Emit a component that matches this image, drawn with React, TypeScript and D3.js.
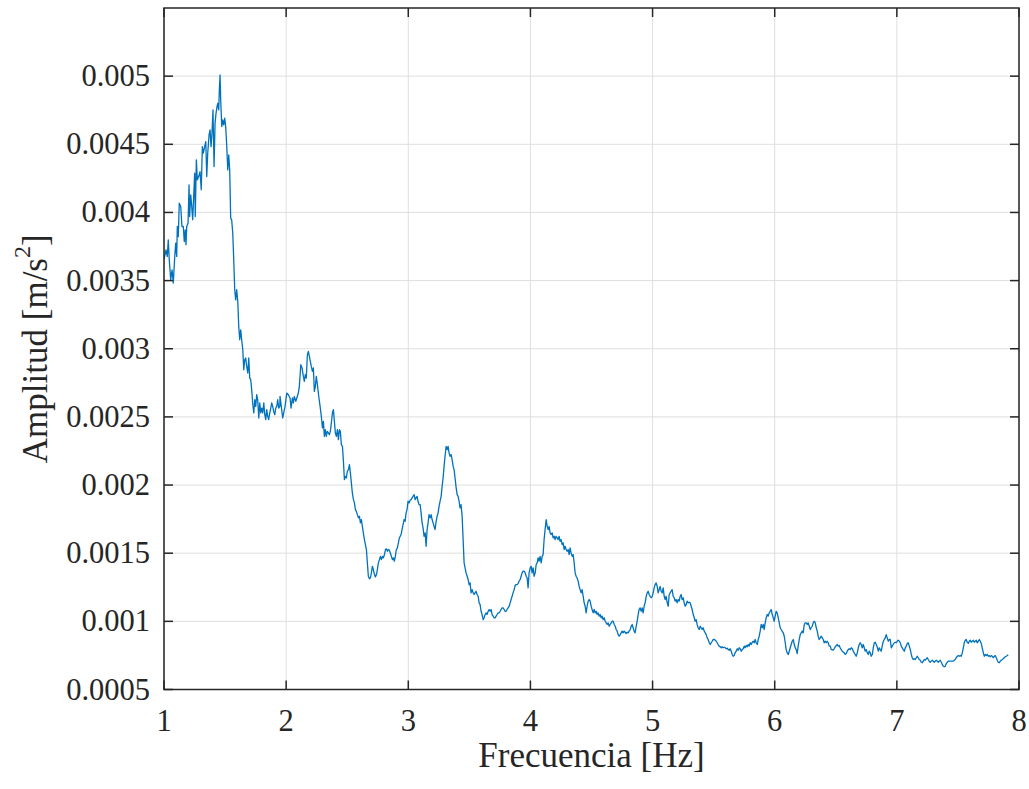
import React from "react";
import * as d3 from "d3";

// Acceleration amplitude spectrum: [frequency (Hz), amplitude (m/s²)]
const spectrum: [number, number][] = [
[1.000,0.003653],[1.016,0.003726],[1.027,0.003677],[1.035,0.003799],[1.043,0.003653],[1.055,0.003506],[1.066,0.003579],[1.076,0.003482],[1.088,0.003677],[1.096,0.003775],[1.104,0.003677],[1.109,0.003897],[1.117,0.003823],[1.125,0.004068],[1.137,0.004043],[1.147,0.003897],[1.158,0.003897],[1.166,0.003787],[1.174,0.003872],[1.180,0.003763],[1.186,0.003897],[1.197,0.003922],[1.205,0.004202],[1.210,0.003970],[1.219,0.004129],[1.227,0.004043],[1.235,0.003946],[1.243,0.004117],[1.251,0.004288],[1.256,0.003970],[1.265,0.004386],[1.273,0.004239],[1.284,0.004263],[1.295,0.004300],[1.305,0.004166],[1.314,0.004483],[1.322,0.004435],[1.333,0.004483],[1.342,0.004520],[1.350,0.004263],[1.358,0.004435],[1.369,0.004569],[1.377,0.004606],[1.385,0.004483],[1.393,0.004581],[1.401,0.004752],[1.410,0.004337],[1.418,0.004655],[1.426,0.004728],[1.434,0.004776],[1.440,0.004801],[1.448,0.004752],[1.453,0.004899],[1.459,0.005009],[1.464,0.004826],[1.473,0.004630],[1.481,0.004679],[1.489,0.004642],[1.497,0.004691],[1.505,0.004630],[1.514,0.004483],[1.522,0.004312],[1.530,0.004422],[1.538,0.004312],[1.546,0.003958],[1.554,0.003946],[1.563,0.003848],[1.571,0.003653],[1.579,0.003433],[1.587,0.003359],[1.595,0.003433],[1.604,0.003347],[1.612,0.003164],[1.620,0.003066],[1.628,0.003139],[1.636,0.003066],[1.645,0.002993],[1.653,0.002846],[1.661,0.002919],[1.669,0.002932],[1.677,0.002870],[1.686,0.002822],[1.694,0.002932],[1.702,0.002785],[1.710,0.002773],[1.718,0.002700],[1.726,0.002602],[1.735,0.002529],[1.743,0.002626],[1.751,0.002577],[1.759,0.002663],[1.767,0.002626],[1.776,0.002492],[1.784,0.002602],[1.792,0.002529],[1.800,0.002565],[1.808,0.002529],[1.817,0.002602],[1.825,0.002516],[1.833,0.002480],[1.841,0.002553],[1.849,0.002504],[1.857,0.002480],[1.866,0.002529],[1.874,0.002565],[1.882,0.002602],[1.890,0.002577],[1.898,0.002540],[1.907,0.002516],[1.915,0.002565],[1.923,0.002577],[1.931,0.002626],[1.939,0.002565],[1.948,0.002577],
[1.950,0.002650],[1.972,0.002492],[1.991,0.002577],[2.005,0.002675],[2.018,0.002663],[2.032,0.002639],[2.040,0.002565],[2.051,0.002639],[2.059,0.002602],[2.067,0.002650],[2.079,0.002614],[2.087,0.002639],[2.100,0.002675],[2.108,0.002724],[2.120,0.002883],[2.130,0.002859],[2.141,0.002797],[2.149,0.002760],[2.157,0.002810],[2.165,0.002785],[2.174,0.002956],[2.182,0.002980],[2.190,0.002944],[2.198,0.002907],[2.206,0.002870],[2.215,0.002834],[2.223,0.002859],[2.231,0.002687],[2.239,0.002724],[2.247,0.002797],[2.256,0.002736],[2.267,0.002650],[2.278,0.002577],[2.288,0.002504],[2.297,0.002419],[2.305,0.002467],[2.313,0.002357],[2.321,0.002406],[2.329,0.002357],[2.337,0.002394],[2.346,0.002382],[2.354,0.002370],[2.362,0.002394],[2.370,0.002455],[2.379,0.002529],[2.387,0.002553],[2.395,0.002467],[2.403,0.002382],[2.411,0.002357],[2.420,0.002406],[2.428,0.002333],[2.436,0.002406],[2.444,0.002394],[2.452,0.002296],[2.461,0.002284],[2.469,0.002174],[2.477,0.002040],[2.485,0.002064],[2.493,0.002052],[2.501,0.002101],[2.510,0.002113],[2.518,0.002150],[2.526,0.002089],[2.534,0.002016],[2.542,0.001942],[2.551,0.001893],[2.559,0.001869],[2.567,0.001820],[2.575,0.001807],[2.583,0.001783],[2.592,0.001759],[2.600,0.001771],[2.608,0.001722],[2.616,0.001747],[2.624,0.001697],[2.632,0.001649],[2.641,0.001600],[2.649,0.001563],[2.657,0.001527],[2.665,0.001429],[2.673,0.001331],[2.682,0.001312],[2.690,0.001319],[2.698,0.001356],[2.706,0.001404],[2.714,0.001380],[2.723,0.001343],[2.731,0.001326],[2.739,0.001343],[2.747,0.001380],[2.755,0.001429],[2.764,0.001453],[2.772,0.001477],[2.780,0.001453],[2.788,0.001477],[2.796,0.001466],[2.805,0.001490],[2.813,0.001527],[2.821,0.001532],[2.829,0.001514],[2.837,0.001527],[2.845,0.001521],[2.853,0.001502],[2.862,0.001477],[2.870,0.001453],[2.878,0.001466],[2.886,0.001441],[2.894,0.001477],[2.902,0.001527],[2.911,0.001539],[2.919,0.001576],[2.927,0.001612],
[2.941,0.001637],[2.949,0.001673],[2.957,0.001710],[2.966,0.001747],[2.974,0.001734],[2.982,0.001796],[2.990,0.001820],[2.998,0.001881],[3.007,0.001869],[3.015,0.001888],[3.023,0.001893],[3.031,0.001906],[3.039,0.001917],[3.048,0.001930],[3.056,0.001893],[3.064,0.001906],[3.072,0.001917],[3.080,0.001881],[3.088,0.001856],[3.097,0.001856],[3.105,0.001796],[3.113,0.001722],[3.121,0.001686],[3.129,0.001624],[3.138,0.001649],[3.146,0.001551],[3.154,0.001673],[3.162,0.001722],[3.170,0.001783],[3.179,0.001759],[3.187,0.001783],[3.195,0.001747],[3.203,0.001722],[3.211,0.001697],[3.219,0.001673],[3.228,0.001734],[3.236,0.001771],[3.244,0.001796],[3.252,0.001844],[3.260,0.001881],[3.269,0.001917],[3.277,0.001991],[3.285,0.002052],[3.293,0.002137],[3.301,0.002211],[3.310,0.002284],[3.318,0.002260],[3.326,0.002284],[3.334,0.002236],[3.342,0.002211],[3.351,0.002223],[3.359,0.002186],[3.367,0.002137],[3.375,0.002113],[3.383,0.002052],[3.392,0.001979],[3.400,0.001930],[3.408,0.001917],[3.416,0.001881],[3.424,0.001832],[3.432,0.001856],[3.441,0.001771],[3.449,0.001600],[3.457,0.001429],[3.465,0.001392],[3.473,0.001356],[3.482,0.001331],[3.490,0.001307],[3.498,0.001270],[3.506,0.001282],[3.514,0.001209],[3.523,0.001233],[3.531,0.001209],[3.539,0.001197],[3.547,0.001209],[3.555,0.001221],[3.563,0.001197],[3.572,0.001184],[3.580,0.001136],[3.588,0.001123],[3.596,0.001074],[3.604,0.001050],[3.613,0.001013],[3.621,0.001026],[3.629,0.001050],[3.637,0.001062],[3.645,0.001050],[3.654,0.001074],[3.662,0.001087],[3.670,0.001074],[3.678,0.001087],[3.686,0.001050],[3.695,0.001038],[3.703,0.001026],[3.711,0.001026],[3.719,0.001038],[3.727,0.001050],[3.735,0.001062],[3.744,0.001062],[3.752,0.001074],[3.760,0.001087],[3.768,0.001099],[3.776,0.001099],[3.785,0.001087],[3.793,0.001074],[3.801,0.001074],[3.809,0.001087],[3.817,0.001099],[3.826,0.001111],[3.834,0.001136],[3.842,0.001160],[3.850,0.001184],[3.858,0.001209],[3.867,0.001233],[3.875,0.001263],[3.883,0.001270],[3.891,0.001270],[3.899,0.001277],[3.907,0.001294],[3.916,0.001307],[3.924,0.001331],[3.932,0.001356],[3.940,0.001368],[3.948,0.001368],[3.957,0.001356],[3.965,0.001331],[3.973,0.001319],[3.981,0.001246],[3.989,0.001356],[3.998,0.001392],[4.006,0.001404],[4.014,0.001356],[4.022,0.001392],[4.030,0.001331],[4.039,0.001356],[4.047,0.001417],[4.055,0.001429],[4.063,0.001466],[4.071,0.001441],[4.079,0.001477],[4.088,0.001429],[4.096,0.001477],[4.104,0.001490],[4.112,0.001600],[4.120,0.001673],[4.129,0.001747],[4.137,0.001697],[4.145,0.001673],[4.153,0.001697],[4.161,0.001649],[4.170,0.001637],[4.178,0.001649],[4.186,0.001612],[4.194,0.001624],[4.202,0.001600],[4.210,0.001624],[4.219,0.001612],[4.227,0.001600],[4.235,0.001624],[4.243,0.001587],[4.251,0.001600],[4.260,0.001563],[4.268,0.001576],[4.276,0.001527],[4.284,0.001551],[4.292,0.001527],[4.301,0.001514],[4.309,0.001527],[4.317,0.001490],[4.325,0.001539],[4.333,0.001502],[4.342,0.001477],[4.350,0.001490],[4.358,0.001429],[4.366,0.001356],[4.374,0.001331],[4.382,0.001319],[4.391,0.001294],[4.399,0.001257],[4.407,0.001233],[4.415,0.001209],[4.423,0.001233],[4.432,0.001184],[4.440,0.001136],[4.448,0.001111],[4.456,0.001062],[4.464,0.001111],[4.473,0.001148],[4.481,0.001160],[4.489,0.001148],
[4.497,0.001111],[4.505,0.001087],[4.514,0.001062],[4.522,0.001087],[4.530,0.001062],[4.538,0.001074],[4.546,0.001050],[4.554,0.001062],[4.563,0.001038],[4.571,0.001050],[4.579,0.001026],[4.587,0.001038],[4.595,0.001013],[4.604,0.001026],[4.612,0.001001],[4.620,0.000989],[4.628,0.000977],[4.636,0.000989],[4.645,0.000964],[4.653,0.000977],[4.661,0.000989],[4.669,0.001001],[4.677,0.001001],[4.686,0.000977],[4.694,0.000964],[4.702,0.000940],[4.710,0.000928],[4.718,0.000903],[4.726,0.000891],[4.735,0.000903],[4.743,0.000916],[4.751,0.000928],[4.759,0.000916],[4.767,0.000928],[4.776,0.000920],[4.784,0.000911],[4.792,0.000920],[4.800,0.000916],[4.808,0.000928],[4.817,0.000940],[4.825,0.000964],[4.833,0.000977],[4.841,0.000953],[4.849,0.000928],[4.857,0.000916],[4.866,0.000964],[4.874,0.001001],[4.882,0.001050],[4.890,0.001087],[4.898,0.001099],[4.907,0.001074],[4.915,0.001099],[4.923,0.001062],[4.931,0.001111],[4.939,0.001136],[4.948,0.001184],[4.956,0.001209],[4.964,0.001221],[4.972,0.001197],[4.980,0.001184],[4.988,0.001173],[4.997,0.001184],[5.005,0.001209],[5.013,0.001246],[5.021,0.001270],[5.029,0.001282],[5.038,0.001257],[5.046,0.001209],[5.054,0.001233],[5.062,0.001257],[5.070,0.001221],[5.079,0.001209],[5.087,0.001246],[5.095,0.001184],[5.103,0.001160],[5.111,0.001184],[5.120,0.001136],[5.128,0.001111],[5.136,0.001197],[5.144,0.001209],[5.152,0.001221],[5.160,0.001233],[5.169,0.001184],[5.177,0.001173],[5.185,0.001148],[5.193,0.001160],[5.201,0.001136],[5.210,0.001160],[5.218,0.001148],[5.226,0.001184],[5.234,0.001197],[5.242,0.001160],[5.251,0.001173],[5.259,0.001136],[5.267,0.001111],[5.275,0.001123],[5.283,0.001148],[5.292,0.001136],[5.300,0.001140],[5.308,0.001136],[5.316,0.001111],[5.324,0.001087],[5.333,0.001050],[5.341,0.001026],[5.349,0.001001],[5.357,0.001013],[5.365,0.000977],[5.373,0.000953],[5.382,0.000940],[5.390,0.000964],[5.398,0.000953],[5.406,0.000940],[5.414,0.000953],[5.423,0.000928],[5.431,0.000916],[5.439,0.000903],[5.447,0.000879],[5.455,0.000867],[5.464,0.000843],[5.472,0.000830],[5.480,0.000843],[5.488,0.000854],[5.496,0.000867],[5.504,0.000867],[5.513,0.000862],[5.521,0.000854],[5.529,0.000843],[5.537,0.000830],[5.545,0.000818],[5.554,0.000813],[5.562,0.000806],[5.570,0.000813],[5.578,0.000806],[5.586,0.000810],[5.595,0.000806],[5.603,0.000799],[5.611,0.000803],[5.619,0.000793],[5.627,0.000788],[5.636,0.000799],[5.644,0.000781],[5.652,0.000757],[5.660,0.000744],[5.668,0.000749],[5.676,0.000769],[5.685,0.000781],[5.693,0.000799],[5.701,0.000788],[5.709,0.000806],[5.717,0.000799],[5.726,0.000781],[5.734,0.000793],[5.742,0.000799],[5.750,0.000818],[5.758,0.000806],[5.767,0.000823],[5.775,0.000813],[5.783,0.000830],[5.791,0.000818],[5.799,0.000843],[5.808,0.000830],[5.816,0.000847],[5.824,0.000854],[5.832,0.000843],[5.840,0.000867],[5.848,0.000843],[5.857,0.000830],[5.865,0.000867],[5.873,0.000891],[5.881,0.000928],[5.889,0.000977],[5.898,0.000953],[5.906,0.000977],[5.914,0.000940],[5.922,0.000989],[5.930,0.001026],[5.939,0.001050],[5.947,0.001038],[5.955,0.001062],[5.963,0.001074],[5.971,0.001087],[5.980,0.001050],[5.988,0.001026],[5.996,0.001001],[6.004,0.001038],[6.012,0.001074],[6.020,0.001062],[6.029,0.001026],[6.037,0.000989],[6.045,0.000953],[6.053,0.000940],[6.061,0.000928],[6.070,0.000916],[6.078,0.000891],[6.086,0.000843],[6.094,0.000793],[6.102,0.000769],[6.111,0.000757],[6.119,0.000781],[6.127,0.000806],[6.135,0.000830],[6.143,0.000854],[6.152,0.000867],[6.160,0.000830],[6.168,0.000806],[6.176,0.000793],[6.184,0.000764],[6.192,0.000818],[6.201,0.000867],[6.209,0.000903],
[6.217,0.000916],[6.225,0.000928],[6.233,0.000916],[6.242,0.000977],[6.250,0.000989],[6.258,0.000989],[6.266,0.000977],[6.274,0.000989],[6.283,0.000964],[6.291,0.000940],[6.299,0.000953],[6.307,0.000964],[6.315,0.000989],[6.323,0.001001],[6.332,0.000989],[6.340,0.000953],[6.348,0.000928],[6.356,0.000891],[6.364,0.000867],[6.373,0.000879],[6.381,0.000891],[6.389,0.000879],[6.397,0.000867],[6.405,0.000843],[6.414,0.000854],[6.422,0.000843],[6.430,0.000854],[6.438,0.000843],[6.446,0.000818],[6.455,0.000818],[6.463,0.000793],[6.471,0.000793],[6.479,0.000788],[6.487,0.000799],[6.495,0.000813],[6.504,0.000823],[6.512,0.000830],[6.520,0.000818],[6.528,0.000823],[6.536,0.000806],[6.545,0.000793],[6.553,0.000781],[6.561,0.000774],[6.569,0.000769],[6.577,0.000757],[6.586,0.000764],[6.594,0.000781],[6.602,0.000793],[6.610,0.000799],[6.618,0.000793],[6.627,0.000806],[6.635,0.000799],[6.643,0.000781],[6.651,0.000769],[6.659,0.000757],[6.667,0.000744],[6.676,0.000769],[6.684,0.000806],[6.692,0.000830],[6.700,0.000843],[6.708,0.000830],[6.717,0.000806],[6.725,0.000830],[6.733,0.000806],[6.741,0.000781],[6.749,0.000793],[6.758,0.000769],[6.766,0.000757],[6.774,0.000781],[6.782,0.000769],[6.790,0.000744],[6.799,0.000757],[6.807,0.000806],[6.815,0.000843],[6.823,0.000847],[6.831,0.000830],[6.839,0.000813],[6.848,0.000781],[6.856,0.000806],[6.864,0.000793],[6.872,0.000781],[6.880,0.000818],[6.889,0.000854],[6.897,0.000867],[6.905,0.000879],[6.913,0.000903],[6.921,0.000879],[6.930,0.000854],[6.938,0.000867],[6.946,0.000867],[6.954,0.000806],[6.962,0.000818],[6.970,0.000830],[6.979,0.000843],[6.987,0.000847],[6.995,0.000843],[7.003,0.000854],[7.011,0.000862],[7.020,0.000854],[7.028,0.000843],[7.036,0.000818],[7.044,0.000806],[7.052,0.000793],[7.061,0.000781],[7.069,0.000806],[7.077,0.000818],[7.085,0.000838],[7.093,0.000843],[7.102,0.000818],[7.110,0.000793],[7.118,0.000757],[7.126,0.000733],[7.134,0.000720],[7.142,0.000725],[7.151,0.000720],[7.159,0.000733],[7.167,0.000744],[7.175,0.000733],[7.183,0.000720],[7.192,0.000715],[7.200,0.000700],[7.208,0.000696],[7.216,0.000708],[7.224,0.000720],[7.233,0.000715],[7.241,0.000725],[7.249,0.000733],[7.257,0.000720],[7.265,0.000708],[7.273,0.000700],[7.282,0.000708],[7.290,0.000715],[7.298,0.000708],[7.306,0.000700],[7.314,0.000708],[7.323,0.000715],[7.331,0.000708],[7.339,0.000700],[7.347,0.000708],[7.355,0.000715],[7.364,0.000700],[7.372,0.000684],[7.380,0.000671],[7.388,0.000667],[7.396,0.000671],[7.405,0.000691],[7.413,0.000700],[7.421,0.000708],[7.429,0.000708],[7.437,0.000708],[7.445,0.000708],[7.454,0.000708],[7.462,0.000708],[7.470,0.000715],[7.478,0.000720],[7.486,0.000733],[7.495,0.000744],[7.503,0.000749],[7.511,0.000744],[7.519,0.000749],[7.527,0.000744],[7.536,0.000769],[7.544,0.000806],[7.552,0.000843],[7.560,0.000862],[7.568,0.000867],[7.576,0.000847],[7.585,0.000838],[7.593,0.000854],[7.601,0.000862],[7.609,0.000847],[7.617,0.000854],[7.626,0.000862],[7.634,0.000847],[7.642,0.000854],[7.650,0.000862],[7.658,0.000843],[7.667,0.000854],[7.675,0.000867],[7.683,0.000854],[7.691,0.000838],[7.699,0.000806],[7.708,0.000769],[7.716,0.000744],[7.724,0.000757],[7.732,0.000749],[7.740,0.000757],[7.748,0.000744],[7.757,0.000749],[7.765,0.000740],[7.773,0.000749],[7.781,0.000744],[7.789,0.000733],[7.798,0.000744],[7.806,0.000749],[7.814,0.000733],[7.822,0.000715],[7.830,0.000700],[7.839,0.000696],[7.847,0.000708],[7.855,0.000715],[7.863,0.000720],[7.871,0.000725],[7.879,0.000733],[7.888,0.000740],[7.896,0.000744],[7.904,0.000749],[7.912,0.000755]
];

const xDomain: [number, number] = [1, 8];
const yDomain: [number, number] = [0.0005, 0.0055];
const xTicks = [1, 2, 3, 4, 5, 6, 7, 8];
const xTickLabels = ["1", "2", "3", "4", "5", "6", "7", "8"];
const yTicks = [0.0005, 0.001, 0.0015, 0.002, 0.0025, 0.003, 0.0035, 0.004, 0.0045, 0.005];
const yTickLabels = ["0.0005", "0.001", "0.0015", "0.002", "0.0025", "0.003", "0.0035", "0.004", "0.0045", "0.005"];

const W = 1029;
const H = 789;
const plot = { left: 164, right: 1019, top: 8, bottom: 689.5 };
const FONT = "'Liberation Serif', 'Times New Roman', Times, serif";
const AXIS = "#262626";
const GRID = "#dfdfdf";
const LINE = "#0072BD";
const TICK = 9;

export default function App() {
  const x = d3.scaleLinear().domain(xDomain).range([plot.left, plot.right]);
  const y = d3.scaleLinear().domain(yDomain).range([plot.bottom, plot.top]);
  const path = d3
    .line<[number, number]>()
    .x((d) => x(d[0]))
    .y((d) => y(d[1]))(spectrum) || "";

  const midX = (plot.left + plot.right) / 2;
  const midY = (plot.top + plot.bottom) / 2;

  return (
    <svg
      width={W}
      height={H}
      viewBox={`0 0 ${W} ${H}`}
      style={{ position: "absolute", left: 0, top: 0, background: "#fff" }}
      fontFamily={FONT}
    >
      <rect x={0} y={0} width={W} height={H} fill="#fff" />
      <defs>
        <clipPath id="plotClip">
          <rect x={plot.left} y={plot.top} width={plot.right - plot.left} height={plot.bottom - plot.top} />
        </clipPath>
      </defs>

      {/* grid */}
      <g stroke={GRID} strokeWidth={1}>
        {xTicks.map((t) => (
          <line key={"gx" + t} x1={x(t)} x2={x(t)} y1={plot.top} y2={plot.bottom} />
        ))}
        {yTicks.map((t) => (
          <line key={"gy" + t} x1={plot.left} x2={plot.right} y1={y(t)} y2={y(t)} />
        ))}
      </g>

      {/* spectrum */}
      <path d={path} fill="none" stroke={LINE} strokeWidth={1.3} strokeLinejoin="round" clipPath="url(#plotClip)" />

      {/* box and ticks */}
      <g stroke={AXIS} strokeWidth={1.5} fill="none">
        <rect x={plot.left} y={plot.top} width={plot.right - plot.left} height={plot.bottom - plot.top} />
        {xTicks.map((t) => (
          <g key={"tx" + t}>
            <line x1={x(t)} x2={x(t)} y1={plot.bottom} y2={plot.bottom - TICK} />
            <line x1={x(t)} x2={x(t)} y1={plot.top} y2={plot.top + TICK} />
          </g>
        ))}
        {yTicks.map((t) => (
          <g key={"ty" + t}>
            <line x1={plot.left} x2={plot.left + TICK} y1={y(t)} y2={y(t)} />
            <line x1={plot.right} x2={plot.right - TICK} y1={y(t)} y2={y(t)} />
          </g>
        ))}
      </g>

      {/* tick labels */}
      <g fill={AXIS} fontSize={30.5}>
        {xTicks.map((t, i) => (
          <text key={"lx" + t} x={x(t)} y={731} textAnchor="middle">
            {xTickLabels[i]}
          </text>
        ))}
        {yTicks.map((t, i) => (
          <text key={"ly" + t} x={150} y={y(t) + 10} textAnchor="end">
            {yTickLabels[i]}
          </text>
        ))}
      </g>

      {/* axis titles */}
      <text x={midX} y={767} textAnchor="middle" fontSize={35} fill={AXIS}>
        Frecuencia [Hz]
      </text>
      <text
        transform={`translate(47,${midY}) rotate(-90)`}
        textAnchor="middle"
        fontSize={35}
        fill={AXIS}
      >
        Amplitud [m/s
        <tspan fontSize={24} dy={-17}>2</tspan>
        <tspan dy={17}>]</tspan>
      </text>
    </svg>
  );
}
